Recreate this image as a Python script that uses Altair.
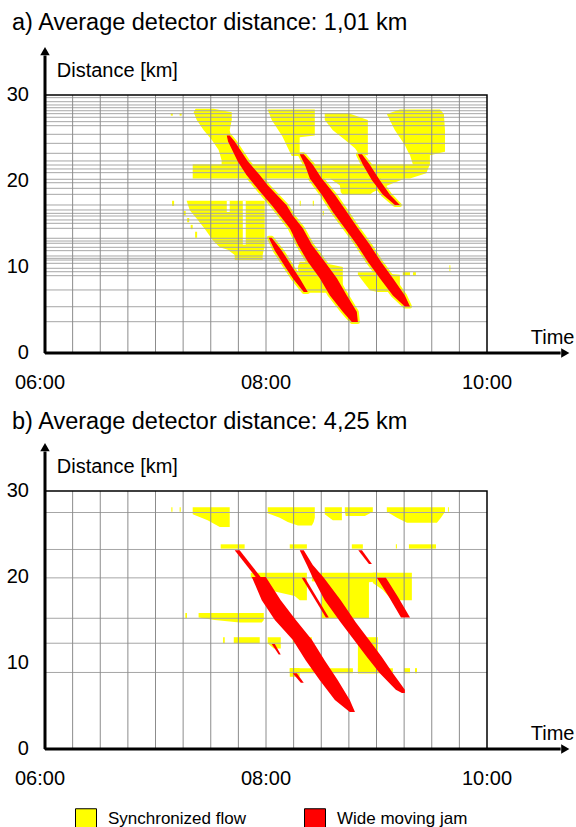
import altair as alt
import pandas as pd

FONT = "Liberation Sans"
YELLOW = "#ffff00"
RED = "#ff0000"

# ---------------- axes / tick data ----------------
X_DOMAIN = [0, 240]            # minutes after 06:00 (06:00 .. 10:00)
Y_DOMAIN = [0, 30]             # km
time_labels = ["06:00", "08:00", "10:00"]
time_label_minutes = [0, 120, 240]
km_ticks = [0, 10, 20, 30]
grid_minutes = [15, 30, 45, 60, 75, 90, 105, 120, 135, 150, 165, 180, 195, 210, 225]

detectors_a = [29.69, 29.22, 28.84, 28.52, 28.17, 27.83, 27.41, 26.90, 26.43, 25.43,
               24.38, 23.22, 22.33, 21.86, 21.40, 20.97, 20.20, 19.80, 19.15, 18.45,
               17.21, 16.63, 16.24, 15.93, 15.47, 15.08, 14.50, 13.34, 13.02, 12.76,
               12.29, 11.90, 11.28, 11.01, 10.81, 10.43, 9.85, 9.45, 8.99, 7.33, 5.38, 3.64]
detectors_b = [27.5, 23.2, 19.9, 15.2, 12.3, 8.9]

# ---------------- panel a: (km, start minute, end minute) ----------------
sync_a = {
    "P1": [(28.4, 81.8, 91.6), (28.0, 80.7, 101.4), (27.1, 82.4, 101.4), (25.9, 86.2, 100.3),
           (24.8, 90.5, 101.4), (23.6, 94.3, 103.6), (22.4, 95.9, 105.7), (21.7, 95.9, 106.8)],
    "band": [(21.95, 80.2, 209.0), (20.9, 80.2, 207.0), (20.3, 80.2, 198.2)],
    "band_low": [(20.3, 154.7, 195.4), (19.5, 160.1, 186.2), (18.7, 160.6, 178.0), (18.4, 161.7, 176.4)],
    "C": [(28.3, 192.7, 214.5), (27.8, 185.6, 216.6), (25.9, 190.0, 217.2), (24.2, 195.4, 217.2),
          (23.4, 197.1, 217.2), (23.0, 198.2, 209.0), (21.9, 199.8, 209.0)],
    "D": [(27.9, 151.9, 164.5), (27.1, 151.9, 175.3), (25.9, 156.3, 175.3), (24.8, 162.8, 175.3),
          (23.8, 168.3, 175.3), (23.0, 171.0, 175.3)],
    "P5": [(28.3, 120.9, 146.5), (27.1, 123.1, 146.5), (25.3, 128.6, 146.5), (25.1, 129.1, 138.3),
           (23.6, 132.4, 138.3), (22.9, 134.0, 138.3)],
    "P2": [(17.7, 76.9, 119.3), (16.6, 78.6, 119.3), (15.5, 82.9, 119.3), (14.3, 87.2, 119.3),
           (13.1, 91.1, 119.3), (12.3, 94.9, 119.3), (12.0, 99.2, 118.8), (11.4, 103.0, 118.2),
           (10.8, 103.0, 118.2)],
    "P3": [(10.6, 138.3, 148.1), (10.0, 137.3, 161.7), (7.3, 138.3, 161.7), (7.0, 141.1, 161.7)],
    "P4": [(9.4, 169.9, 177.5), (9.1, 169.9, 192.7), (7.3, 176.4, 192.7), (7.1, 180.7, 192.7)],
    "t1": [(27.9, 68.3, 69.4), (27.6, 68.3, 69.4)],
    "t2": [(27.9, 73.1, 74.2), (27.6, 73.1, 74.2)],
    "d1": [(17.7, 69.0, 70.1), (17.1, 69.0, 70.1)],
    "d2": [(16.5, 75.3, 76.4), (16.0, 75.3, 76.4)],
    "d3": [(15.7, 77.2, 78.3), (15.2, 77.2, 78.3)],
    "d4": [(14.9, 79.1, 80.2), (14.4, 79.1, 80.2)],
    "d5": [(14.1, 81.5, 82.6), (13.4, 81.5, 82.6)],
    "d6": [(10.2, 219.6, 220.1), (9.5, 219.6, 220.1)],
    "d7": [(9.4, 194.3, 198.2), (9.0, 194.3, 198.2)],
    "d8": [(9.4, 199.8, 201.4), (9.0, 199.8, 201.4)],
    "d9": [(17.7, 138.3, 138.9), (17.1, 138.3, 138.9)],
    "d10": [(17.7, 145.4, 146.0), (17.1, 145.4, 146.0)],
    "d11": [(16.5, 150.8, 151.4), (16.0, 150.8, 151.4)],
}
holes_a = {
    "h1": [(17.7, 98.7, 100.3), (16.4, 98.7, 100.3)],
    "h2": [(17.7, 107.4, 109.0), (12.6, 107.4, 109.0)],
}
jams_a = {
    "A1": [(25.3, 98.7, 100.3), (24.6, 99.4, 103.0), (22.3, 104.6, 110.1), (20.7, 109.4, 116.6),
           (19.5, 113.9, 120.9), (18.4, 118.2, 125.8), (17.2, 123.0, 131.1), (16.0, 127.5, 134.5),
           (14.5, 132.9, 140.0), (12.6, 137.3, 144.9), (10.6, 142.7, 151.9), (8.7, 149.2, 158.5),
           (6.7, 154.7, 163.9), (4.8, 161.7, 169.3), (3.6, 166.6, 169.9)],
    "A2": [(13.4, 121.5, 123.1), (11.9, 124.8, 128.6), (10.1, 130.2, 134.0), (8.7, 134.5, 138.3),
           (7.1, 140.5, 142.7)],
    "A3": [(23.1, 138.3, 140.5), (21.9, 141.1, 145.4), (20.3, 143.8, 150.3), (18.4, 150.3, 157.4),
           (16.4, 156.3, 163.9), (14.5, 162.8, 169.9), (12.6, 169.3, 176.4), (10.6, 175.3, 182.4),
           (8.7, 181.8, 188.9), (6.7, 188.9, 195.4), (5.4, 195.4, 198.2)],
    "A4": [(23.1, 169.9, 172.1), (21.9, 172.6, 176.4), (20.1, 177.5, 181.8), (18.4, 183.5, 187.3),
           (17.2, 190.0, 192.7)],
}

# ---------------- panel b ----------------
sync_b = {
    "S1": [(28.1, 80.2, 100.3), (27.3, 80.2, 100.3), (26.6, 88.3, 100.3), (25.8, 94.9, 100.3)],
    "S2": [(28.1, 120.9, 146.5), (27.4, 120.9, 146.5), (26.9, 127.5, 146.5), (26.4, 131.8, 145.9),
           (26.0, 137.3, 144.9)],
    "S3": [(28.1, 151.9, 161.2), (27.3, 151.9, 161.2), (26.6, 156.3, 161.2)],
    "S4": [(28.1, 162.8, 178.0), (27.6, 162.8, 178.0), (27.1, 163.3, 173.7)],
    "S5": [(28.1, 185.6, 217.2), (27.6, 185.6, 217.2), (26.9, 191.1, 215.0), (26.3, 196.5, 212.8)],
    "t1": [(28.1, 68.6, 69.2), (27.6, 68.6, 69.2)],
    "t2": [(28.1, 73.1, 73.7), (27.6, 73.1, 73.7)],
    "t3": [(28.1, 218.8, 219.3), (27.6, 218.8, 219.3)],
    "R2a": [(23.8, 95.4, 108.4), (23.3, 95.4, 108.4)],
    "R2b": [(23.8, 132.9, 142.2), (23.3, 132.9, 142.2)],
    "R2c": [(23.8, 166.6, 172.6), (23.3, 166.6, 172.6)],
    "R2d": [(23.8, 190.5, 191.1), (23.3, 190.5, 191.1)],
    "R2e": [(23.8, 197.6, 212.3), (23.3, 197.6, 212.3)],
    "R3a": [(20.5, 111.7, 142.2), (19.9, 111.7, 142.2), (19.4, 117.7, 142.2), (18.7, 120.9, 142.2),
            (18.3, 124.8, 142.2), (17.8, 135.6, 142.2), (17.3, 138.3, 142.2)],
    "R3c": [(20.5, 144.9, 180.7), (19.5, 144.9, 180.7), (19.4, 150.3, 175.9), (15.2, 150.3, 175.9)],
    "R3d": [(20.5, 178.0, 199.2), (19.3, 178.0, 199.2), (18.5, 183.5, 199.2), (17.3, 188.4, 199.2)],
    "R4": [(15.8, 83.4, 118.8), (15.3, 83.4, 118.8), (15.0, 92.1, 118.8), (14.7, 105.7, 117.7)],
    "R4t": [(15.8, 76.2, 77.1), (15.2, 76.2, 77.1)],
    "R5a": [(13.0, 102.5, 116.6), (12.3, 102.5, 116.6)],
    "R5t": [(13.0, 96.7, 97.6), (12.3, 96.7, 97.6)],
    "R5b": [(13.0, 120.9, 128.0), (12.3, 120.9, 128.0), (11.7, 124.2, 128.0)],
    "R5c": [(13.0, 134.5, 144.9), (12.3, 134.5, 144.9)],
    "C2": [(13.0, 169.9, 180.7), (8.8, 169.9, 180.7)],
    "R6a": [(9.4, 132.9, 167.2), (8.8, 132.9, 167.2)],
    "R6b": [(9.4, 132.9, 138.3), (8.4, 132.9, 138.3)],
    "R6c": [(9.4, 169.9, 188.9), (8.8, 169.9, 188.9)],
    "R6d": [(9.4, 194.9, 198.2), (8.8, 194.9, 198.2)],
    "R6e": [(9.4, 200.9, 202.0), (8.8, 200.9, 202.0)],
}
jams_b = {
    "J1n": [(23.1, 103.0, 105.7), (20.0, 114.4, 117.1)],
    "J1": [(20.0, 112.3, 119.9), (17.3, 117.7, 128.0), (15.0, 124.8, 136.2), (12.7, 134.5, 144.9),
           (10.3, 141.6, 151.9), (8.0, 149.2, 159.0), (5.7, 157.4, 165.5), (4.3, 165.5, 168.3)],
    "J2": [(12.2, 123.1, 124.8), (11.0, 126.9, 128.0)],
    "J3": [(23.1, 138.3, 140.5), (21.4, 142.2, 145.4), (19.9, 145.4, 151.4), (17.3, 151.9, 160.6),
           (14.7, 160.6, 168.8), (12.7, 167.7, 175.9), (10.7, 174.8, 182.9), (8.8, 181.8, 188.9),
           (6.9, 190.5, 195.4), (6.5, 193.8, 195.4)],
    "J4": [(19.9, 139.4, 141.1), (15.3, 152.5, 154.1)],
    "J5": [(23.1, 170.1, 172.1), (21.5, 175.9, 177.5)],
    "J6": [(19.9, 180.2, 185.1), (17.7, 186.7, 191.6), (15.3, 193.3, 198.2)],
    "J7": [(8.8, 134.5, 136.7), (7.7, 138.9, 140.5)],
}

titles = ["a) Average detector distance: 1,01 km", "b) Average detector distance: 4,25 km"]
legend_names = ["Synchronized flow", "Wide moving jam"]

# ---------------- helpers ----------------
X_RANGE = [45, 487]
PANEL_RANGES = [[353, 95], [749, 491]]

xs = alt.Scale(domain=X_DOMAIN, range=X_RANGE, nice=False, zero=False)
color_scale = alt.Scale(domain=legend_names, range=[YELLOW, RED])
legend = alt.Legend(title=None, orient="none", legendX=75, legendY=808, direction="horizontal",
                    symbolType="square", symbolSize=441, symbolStrokeColor="black",
                    symbolStrokeWidth=1, symbolOpacity=1, labelFont=FONT, labelFontSize=17,
                    labelColor="black", labelOffset=11, columnPadding=56, padding=0)


def ysc(rng):
    return alt.Scale(domain=Y_DOMAIN, range=rng, nice=False, zero=False)


def shapes_df(shapes, kind):
    recs = []
    for name, rows in shapes.items():
        for km, t0, t1 in rows:
            recs.append({"shape": name, "km": km, "t0": t0, "t1": t1, "kind": kind})
    return pd.DataFrame(recs)


def area_layer(df, rng, colored=True, fill=YELLOW, stroke_width=0):
    if colored:
        mark = alt.Chart(df).mark_area(orient="horizontal", opacity=1)
        extra = {"color": alt.Color("kind:N", scale=color_scale, legend=legend)}
    elif stroke_width:
        mark = alt.Chart(df).mark_area(orient="horizontal", opacity=1, fill=fill, stroke=fill,
                                       strokeWidth=stroke_width, strokeJoin="round")
        extra = {}
    else:
        mark = alt.Chart(df).mark_area(orient="horizontal", opacity=1, fill=fill)
        extra = {}
    return mark.encode(
        y=alt.Y("km:Q", scale=ysc(rng), axis=None),
        x=alt.X("t0:Q", scale=xs, axis=None, stack=None),
        x2="t1:Q",
        detail="shape:N",
        **extra,
    )


def text_layer(df, rng, align, size, dx=0):
    return alt.Chart(df).mark_text(align=align, baseline="middle", font=FONT, fontSize=size,
                                   color="black", dx=dx).encode(
        x=alt.X("t:Q", scale=xs, axis=None),
        y=alt.Y("km:Q", scale=ysc(rng), axis=None),
        text="label:N",
    )


def panel(idx, sync, jams, detectors, holes=None, fringe=False):
    rng = PANEL_RANGES[idx]
    layers = [area_layer(shapes_df(sync, legend_names[0]), rng)]
    if fringe:
        layers.append(area_layer(shapes_df(jams, "fringe"), rng, colored=False, fill=YELLOW,
                                 stroke_width=4))
    if holes:
        layers.append(area_layer(shapes_df(holes, "hole"), rng, colored=False, fill="white"))

    hgrid = pd.DataFrame({"km": detectors, "t0": X_DOMAIN[0], "t1": X_DOMAIN[1]})
    vgrid = pd.DataFrame({"t": grid_minutes, "k0": Y_DOMAIN[0], "k1": Y_DOMAIN[1]})
    layers.append(alt.Chart(hgrid).mark_rule(color="#a6a6a6", strokeWidth=1).encode(
        y=alt.Y("km:Q", scale=ysc(rng), axis=None),
        x=alt.X("t0:Q", scale=xs, axis=None), x2="t1:Q"))
    layers.append(alt.Chart(vgrid).mark_rule(color="#8c8c8c", strokeWidth=1).encode(
        x=alt.X("t:Q", scale=xs, axis=None),
        y=alt.Y("k0:Q", scale=ysc(rng), axis=None), y2="k1:Q"))

    layers.append(area_layer(shapes_df(jams, legend_names[1]), rng))

    frame = pd.DataFrame({"t0": [X_DOMAIN[0]], "t1": [X_DOMAIN[1]],
                          "k0": [Y_DOMAIN[0]], "k1": [Y_DOMAIN[1]]})
    layers.append(alt.Chart(frame).mark_rect(fillOpacity=0, stroke="black", strokeWidth=1.5).encode(
        x=alt.X("t0:Q", scale=xs, axis=None), x2="t1:Q",
        y=alt.Y("k0:Q", scale=ysc(rng), axis=None), y2="k1:Q"))

    # axis arrows (time axis reaches past 10:00, distance axis past 30 km)
    yaxis = pd.DataFrame({"t": [0], "k0": [0], "k1": [34.6]})
    xaxis = pd.DataFrame({"km": [0], "t0": [0], "t1": [280]})
    layers.append(alt.Chart(yaxis).mark_rule(color="black", strokeWidth=3).encode(
        x=alt.X("t:Q", scale=xs, axis=None),
        y=alt.Y("k0:Q", scale=ysc(rng), axis=None), y2="k1:Q"))
    layers.append(alt.Chart(xaxis).mark_rule(color="black", strokeWidth=3).encode(
        y=alt.Y("km:Q", scale=ysc(rng), axis=None),
        x=alt.X("t0:Q", scale=xs, axis=None), x2="t1:Q"))
    layers.append(alt.Chart(pd.DataFrame({"t": [0], "km": [35.1]})).mark_point(
        shape="triangle-up", filled=True, color="black", size=90, opacity=1).encode(
        x=alt.X("t:Q", scale=xs, axis=None), y=alt.Y("km:Q", scale=ysc(rng), axis=None)))
    layers.append(alt.Chart(pd.DataFrame({"t": [282.5], "km": [0]})).mark_point(
        shape="triangle-right", filled=True, color="black", size=90, opacity=1).encode(
        x=alt.X("t:Q", scale=xs, axis=None), y=alt.Y("km:Q", scale=ysc(rng), axis=None)))

    # texts
    layers.append(text_layer(pd.DataFrame({"t": [-17.9], "km": [38.4 if idx == 0 else 38.0],
                                           "label": [titles[idx]]}), rng, "left", 23.5))
    layers.append(text_layer(pd.DataFrame({"t": [6.4], "km": [32.8], "label": ["Distance [km]"]}),
                             rng, "left", 20))
    layers.append(text_layer(pd.DataFrame({"t": [-8.7] * 4, "km": km_ticks,
                                           "label": [str(k) for k in km_ticks]}), rng, "right", 20))
    # first time label sits slightly left of the axis origin in the original
    layers.append(text_layer(pd.DataFrame({"t": time_label_minutes[:1], "km": [-3.5],
                                           "label": time_labels[:1]}), rng, "center", 20, dx=-5))
    layers.append(text_layer(pd.DataFrame({"t": time_label_minutes[1:], "km": [-3.5] * 2,
                                           "label": time_labels[1:]}), rng, "center", 20))
    layers.append(text_layer(pd.DataFrame({"t": [275.6], "km": [1.8], "label": ["Time"]}),
                             rng, "center", 20))
    return layers


layers = (panel(0, sync_a, jams_a, detectors_a, holes=holes_a, fringe=True)
          + panel(1, sync_b, jams_b, detectors_b))

chart = alt.layer(*layers).resolve_scale(y="independent").properties(
    width=576, height=827, padding=0,
    autosize=alt.AutoSizeParams(type="none"),
).configure_view(strokeWidth=0)

chart.save("out.html", embed_options={"renderer": "svg", "actions": False})
